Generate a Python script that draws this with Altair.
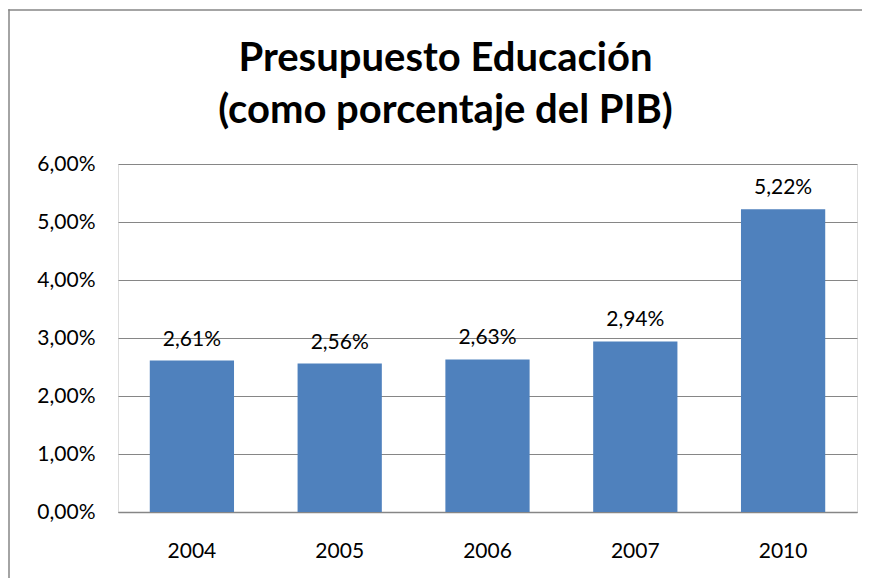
import altair as alt
import pandas as pd

years = ["2004", "2005", "2006", "2007", "2010"]
values = [0.0261, 0.0256, 0.0263, 0.0294, 0.0522]
y_ticks = [0, 0.01, 0.02, 0.03, 0.04, 0.05, 0.06]
title_lines = ["Presupuesto Educación", "(como porcentaje del PIB)"]

df = pd.DataFrame({"year": years, "value": values})

FONT = "Lato"
GRID = "#868686"

x = alt.X("year:N", sort=years, title=None,
          scale=alt.Scale(paddingInner=0.43, paddingOuter=0.215),
          axis=alt.Axis(labelAngle=0, ticks=False, domainColor=GRID, domainWidth=1.3,
                        labelFont=FONT, labelFontSize=21, labelColor="#000000",
                        labelPadding=28))
y = alt.Y("value:Q", title=None,
          scale=alt.Scale(domain=[0, 0.06]),
          axis=alt.Axis(values=y_ticks, domain=False, ticks=False, gridColor=GRID,
                        gridWidth=1.2, labelFont=FONT, labelFontSize=21,
                        labelColor="#000000", labelPadding=23,
                        labelExpr="replace(format(datum.value, '.2%'), '.', ',')"))

bars = alt.Chart(df).mark_bar(color="#4F81BD").encode(x=x, y=y)

labels = alt.Chart(df).transform_calculate(
    lab="replace(format(datum.value, '.2%'), '.', ',')"
).mark_text(font=FONT, fontSize=21, baseline="bottom", dy=-11, color="#000000").encode(
    x=alt.X("year:N", sort=years), y="value:Q", text="lab:N")

one = pd.DataFrame({"k": [0]})
border_left = alt.Chart(one).mark_rule(stroke=GRID, strokeWidth=1.5).encode(
    x=alt.value(-109), y=alt.value(-154.75), y2=alt.value(500))
border_top = alt.Chart(one).mark_rule(stroke=GRID, strokeWidth=1.5).encode(
    x=alt.value(-109.75), x2=alt.value(760), y=alt.value(-154))

chart = alt.layer(border_left, border_top, bars, labels).properties(
    width=739, height=348,
    title=alt.TitleParams(title_lines, font=FONT, fontSize=40, fontWeight="bold",
                          color="#000000", lineHeight=52, anchor="middle",
                          dx=-42, offset=-122),
    autosize=alt.AutoSizeParams(type="none"),
    padding={"left": 110, "top": 156, "right": 5, "bottom": 66},
).configure_view(stroke=None).configure(background="#ffffff")

chart.save("out.html", embed_options={"renderer": "svg", "actions": False})
